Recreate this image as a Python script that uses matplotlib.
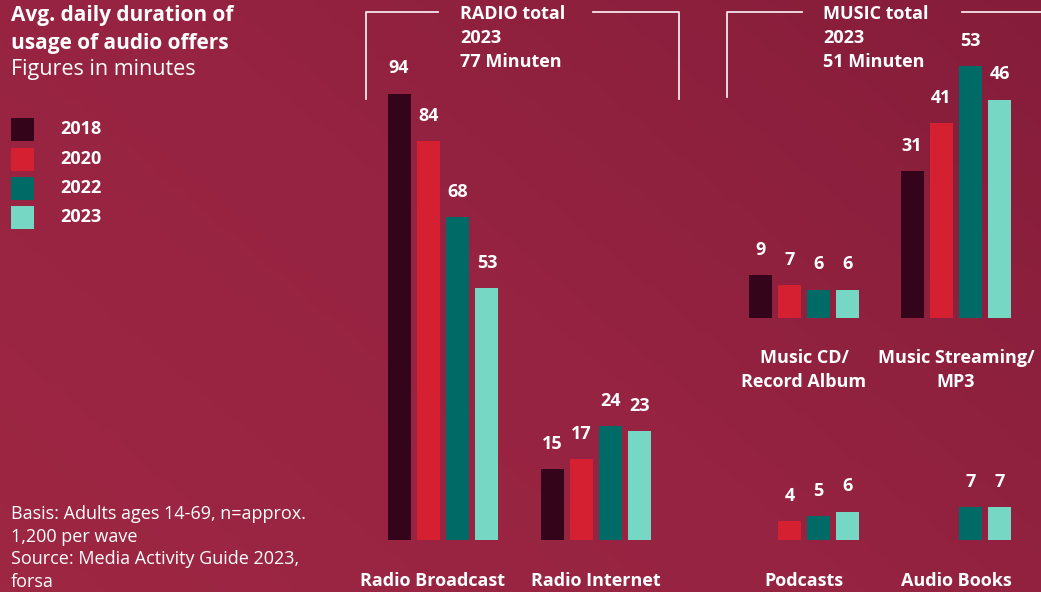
import numpy as np
import matplotlib
matplotlib.use("Agg")
import matplotlib.pyplot as plt
from matplotlib.colors import LinearSegmentedColormap
from matplotlib.patches import Rectangle
from matplotlib.lines import Line2D

years = ["2018", "2020", "2022", "2023"]
colors = ["#33041a", "#d42030", "#006a66", "#76d7c4"]

radio_broadcast = [94, 84, 68, 53]
radio_internet = [15, 17, 24, 23]
music_cd = [9, 7, 6, 6]
music_streaming = [31, 41, 53, 46]
podcasts = [None, 4, 5, 6]
audio_books = [None, None, 7, 7]

radio_total = "RADIO total\n2023\n77 Minuten"
music_total = "MUSIC total\n2023\n51 Minuten"

W, H = 1041, 592
plt.rcParams["font.family"] = ["Open Sans", "DejaVu Sans"]
fig = plt.figure(figsize=(W / 100, H / 100), dpi=100)

# diagonal crimson background, a little darker towards the top right
bg = fig.add_axes([0, 0, 1, 1], zorder=-5)
gx, gy = np.meshgrid(np.linspace(0, 1, 200), np.linspace(0, 1, 120))
grad = 0.6 * gx + 0.4 * (1 - gy)
cmap = LinearSegmentedColormap.from_list("bg", ["#9e2743", "#952341", "#851d3a"])
bg.imshow(grad, cmap=cmap, aspect="auto", extent=[0, 1, 0, 1], origin="upper")
bg.axis("off")


def fx(x):
    return x / W


def fy(y):
    return 1 - y / H


PX = 4.75  # pixels per minute
pitch, bw = 29.3, 23
BOLD = 13

ax_low = fig.add_axes([0, fy(540), 1, 100 * PX / H])
ax_low.set_ylim(0, 100)
ax_top = fig.add_axes([0, fy(318), 1, 60 * PX / H])
ax_top.set_ylim(0, 60)

groups = [
    (ax_low, 443, radio_broadcast),
    (ax_low, 596, radio_internet),
    (ax_low, 804, podcasts),
    (ax_low, 956, audio_books),
    (ax_top, 804, music_cd),
    (ax_top, 956, music_streaming),
]
for ax, cx, vals in groups:
    for i, v in enumerate(vals):
        if v is None:
            continue
        x = cx + (i - 1.5) * pitch
        ax.bar(x, v, width=bw, color=colors[i], linewidth=0)
        ax.annotate(str(v), (x, v), xytext=(0, 14.5), textcoords="offset points",
                    ha="center", va="baseline", color="white",
                    fontsize=BOLD, fontweight="bold")

for ax in (ax_low, ax_top):
    ax.set_xlim(0, W)
    ax.patch.set_alpha(0)
    ax.axis("off")

# category labels
cat_labels = [
    (432, 581, "Radio Broadcast"),
    (596, 581, "Radio Internet"),
    (804, 581, "Podcasts"),
    (956, 581, "Audio Books"),
    (804, 370, "Music CD/\nRecord Album"),
    (956, 370, "Music Streaming/\nMP3"),
]
for x, y, t in cat_labels:
    fig.text(fx(x), fy(y), t, ha="center", va="center", color="white",
             fontsize=BOLD, fontweight="bold", linespacing=1.4)

# title
fig.text(fx(11), fy(16), "Avg. daily duration of", ha="left", va="center",
         color="white", fontsize=15, fontweight="bold")
fig.text(fx(11), fy(43), "usage of audio offers", ha="left", va="center",
         color="white", fontsize=15, fontweight="bold")
fig.text(fx(11), fy(70), "Figures in minutes", ha="left", va="center",
         color="white", fontsize=15.5)

# legend
for i, (yr, c) in enumerate(zip(years, colors)):
    y0 = 118 + i * 29.5
    fig.patches.append(Rectangle((fx(11), fy(y0 + 23)), 23 / W, 23 / H,
                                 transform=fig.transFigure, color=c, lw=0))
    fig.text(fx(60), fy(y0 + 11), yr, ha="left", va="center", color="white",
             fontsize=BOLD, fontweight="bold")

# footnote
foot = ["Basis: Adults ages 14-69, n=approx.", "1,200 per wave",
        "Source: Media Activity Guide 2023,", "forsa"]
for i, line in enumerate(foot):
    fig.text(fx(11), fy(514 + i * 22.7), line, ha="left", va="center",
             color="white", fontsize=13)


# brackets around the totals
def bracket(x0, x1, gap0, gap1, y_top, y_bot, right=True):
    kw = dict(color="#f3e6ea", lw=1.3, transform=fig.transFigure)
    fig.lines.append(Line2D([fx(x0), fx(x0), fx(gap0)], [fy(y_bot), fy(y_top), fy(y_top)], **kw))
    if right:
        fig.lines.append(Line2D([fx(gap1), fx(x1), fx(x1)], [fy(y_top), fy(y_top), fy(y_bot)], **kw))
    else:
        fig.lines.append(Line2D([fx(gap1), fx(x1)], [fy(y_top), fy(y_top)], **kw))


bracket(366, 679, 438, 593, 12, 99)
bracket(727, 1041, 802, 962, 12, 97, right=False)

for x, block in ((460, radio_total), (823, music_total)):
    for j, line in enumerate(block.split("\n")):
        fig.text(fx(x), fy(14 + j * 24), line, ha="left", va="center",
                 color="white", fontsize=BOLD, fontweight="bold")

fig.savefig("out.png", dpi=100)
